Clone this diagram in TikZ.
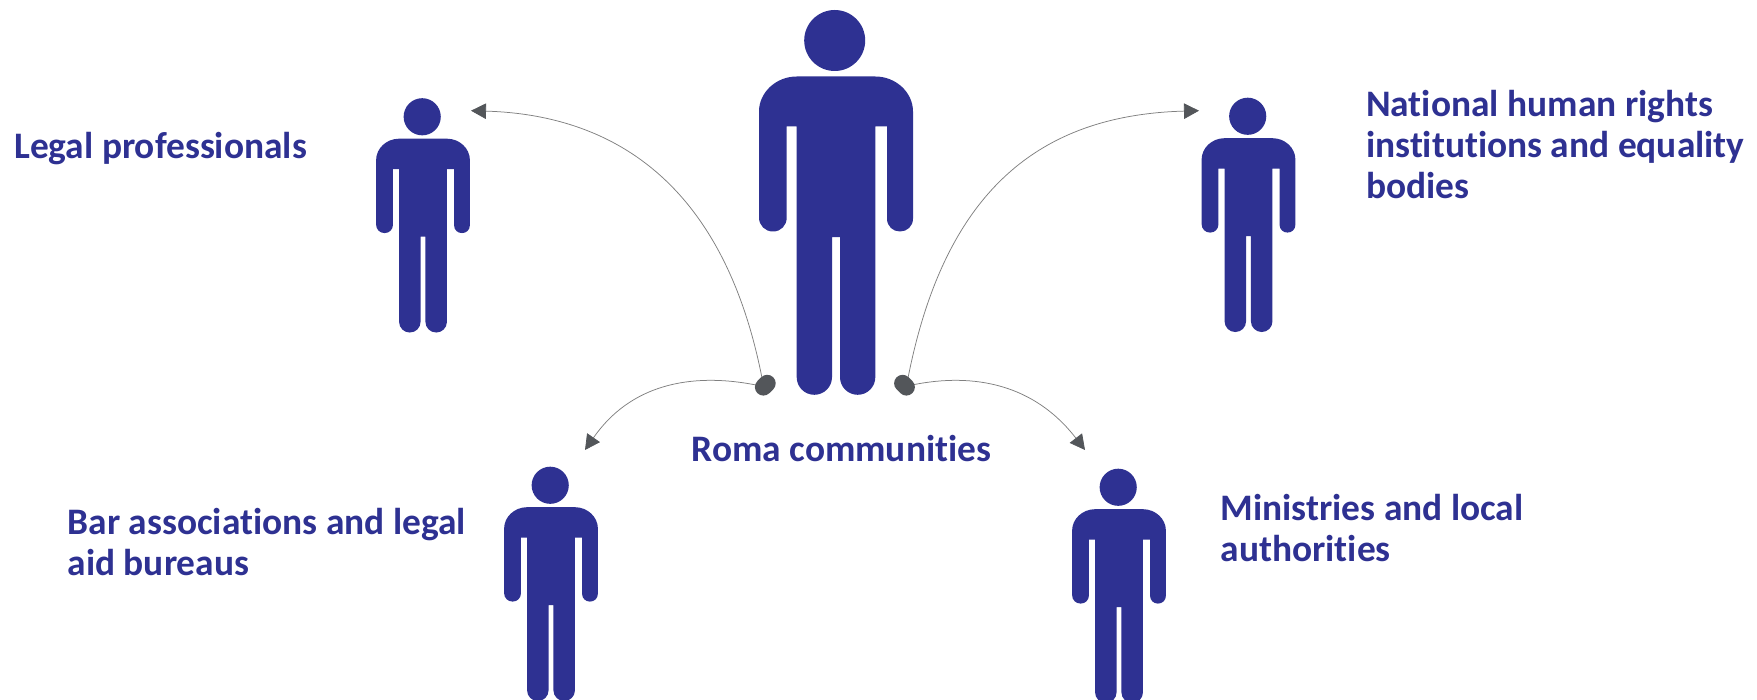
\documentclass[tikz,border=0pt]{standalone}
\usepackage{fontspec}
\setmainfont[Ligatures=NoCommon]{Carlito}
\usetikzlibrary{arrows.meta}
\definecolor{figblue}{HTML}{2E3192}
\definecolor{dotgrey}{HTML}{53565A}
\definecolor{linegrey}{HTML}{808080}
\tikzset{
  x=1pt,y=-1pt,
  person/.pic={
    \fill[figblue] (-1.3,30) circle[radius=30.5];
    \fill[figblue] (-39.3,66)
      -- (39.3,66) .. controls (60,66) and (77,82) .. (77,101)
      -- (77,208) .. controls (77,216) and (71,221) .. (64,221)
      .. controls (57,221) and (51,216) .. (51,208)
      -- (51,116) -- (39.3,116)
      -- (39.3,366.7) .. controls (39.3,376.5) and (31.4,384.3) .. (21.7,384.3)
      .. controls (12,384.3) and (4,376.5) .. (4,366.7)
      -- (4,226.7) -- (-4,226.7)
      -- (-4,366.7) .. controls (-4,376.5) and (-12,384.3) .. (-21.7,384.3)
      .. controls (-31.4,384.3) and (-39.3,376.5) .. (-39.3,366.7)
      -- (-39.3,116) -- (-49.3,116)
      -- (-49.3,207) .. controls (-49.3,215) and (-55,221) .. (-63,221)
      .. controls (-71,221) and (-77,215) .. (-77,207)
      -- (-77,101) .. controls (-77,82) and (-60,66) .. (-39.3,66) -- cycle;
  },
  label/.style={font=\bfseries\fontsize{37.4}{41}\selectfont,text=figblue,anchor=base west,inner sep=0pt,align=left},
  link/.style={draw=linegrey,line width=0.75pt,-{Triangle[length=15pt,width=15.5pt,color=dotgrey,fill=dotgrey]}},
  dot/.style={draw=dotgrey,line width=17pt,line cap=round},
}
\begin{document}
\begin{tikzpicture}
\useasboundingbox (0,0) rectangle (1757,700);
\clip (0,0) rectangle (1757,700);
\fill[white] (0,0) rectangle (1757,700);
\pic (roma) at (836,10.5) {person};
\pic[scale=.609] (legal) at (423,98.5) {person};
\pic[scale=.609] (nhri) at (1248.5,98) {person};
\pic[scale=.609] (bar) at (551,467) {person};
\pic[scale=.609] (min) at (1119,469) {person};

\coordinate (dla) at (763.4,387.1);
\coordinate (dlb) at (767.2,383.3);
\coordinate (dra) at (902.6,383.3);
\coordinate (drb) at (906.4,387.1);
\coordinate (s1) at (762,378);
\coordinate (s2) at (908,378);
\coordinate (s3) at (756,385);
\coordinate (s4) at (912,385);
\coordinate (t1) at (471,110.7);
\coordinate (t2) at (1199,110.7);
\coordinate (t3) at (585,450);
\coordinate (t4) at (1085,450);

\draw[link] (s1) .. controls (725,190) and (620,115) .. (t1);
\draw[link] (s2) .. controls (945,190) and (1040,115) .. (t2);
\draw[link] (s3) .. controls (690,372) and (630,385) .. (t3);
\draw[link] (s4) .. controls (975,372) and (1035,385) .. (t4);
\draw[dot] (dla) -- (dlb);
\draw[dot] (dra) -- (drb);

\node[label] (n1) at (14,158.5) {Legal professionals};
\node[label] (n2) at (1366,198.5) {National human rights\\institutions and equality\\bodies};
\node[label] (n3) at (67.5,575) {Bar associations and legal\\aid bureaus};
\node[label] (n4) at (1220.5,561) {Ministries and local\\authorities};
\node[label] (n5) at (691.5,462) {Roma communities};
\end{tikzpicture}
\end{document}
